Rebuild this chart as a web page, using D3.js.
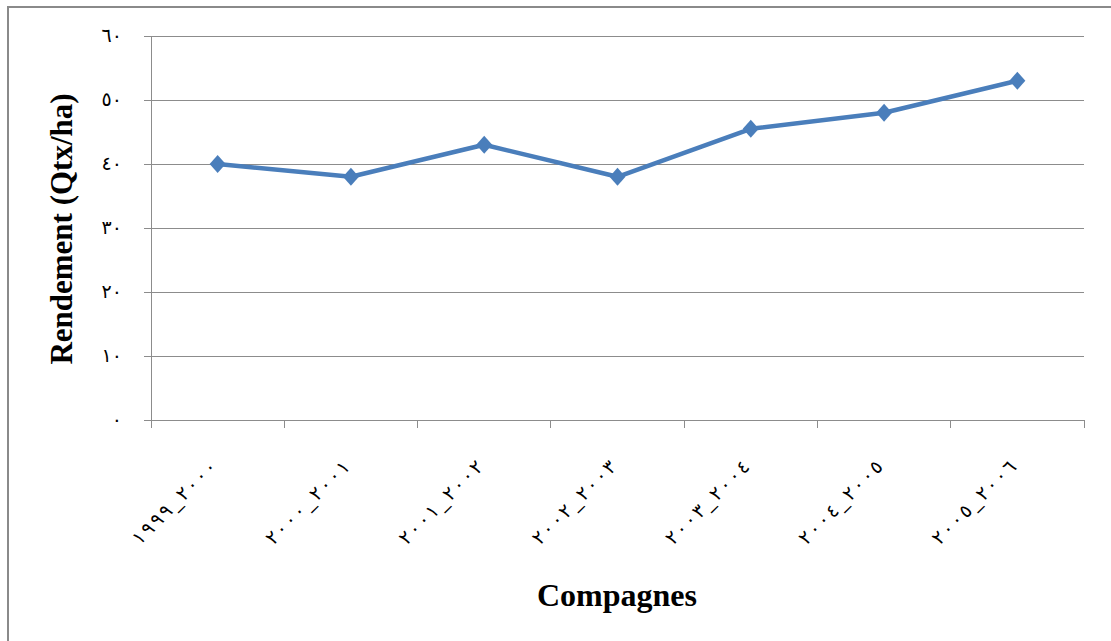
<!DOCTYPE html>
<html>
<head>
<meta charset="utf-8">
<script src="https://cdn.jsdelivr.net/npm/d3@7"></script>
<style>
  html, body { margin: 0; padding: 0; background: #ffffff; }
  svg { display: block; }
</style>
</head>
<body>
<svg id="chart" width="1111" height="641"></svg>
<script>
// Campaign labels (Arabic-Indic digits)
const campaigns = ["١٩٩٩_٢٠٠٠", "٢٠٠٠_٢٠٠١", "٢٠٠١_٢٠٠٢", "٢٠٠٢_٢٠٠٣", "٢٠٠٣_٢٠٠٤", "٢٠٠٤_٢٠٠٥", "٢٠٠٥_٢٠٠٦"];
// Yield per campaign, Qtx/ha
const yields = [40, 38, 43, 38, 45.5, 48, 53];
// Y axis ticks and their labels
const yTicks = [0, 10, 20, 30, 40, 50, 60];
const yTickLabels = ["٠", "١٠", "٢٠", "٣٠", "٤٠", "٥٠", "٦٠"];

const svg = d3.select("#chart");
const plot = { left: 151, right: 1084, top: 36, bottom: 420 };
const gridColor = "#8c8c8c";
const lineColor = "#4a7ebb";

// Outer frame
svg.append("rect")
  .attr("x", 8).attr("y", 7)
  .attr("width", 1120).attr("height", 660)
  .attr("fill", "none")
  .attr("stroke", "#8a8a8a")
  .attr("stroke-width", 2);

const x = d3.scaleBand()
  .domain(campaigns)
  .range([plot.left, plot.right])
  .paddingInner(0).paddingOuter(0);

const y = d3.scaleLinear()
  .domain([0, 60])
  .range([plot.bottom, plot.top]);

// Horizontal gridlines with outward tick marks
const yAxis = d3.axisLeft(y)
  .tickValues(yTicks)
  .tickSize(-(plot.right - plot.left))
  .tickFormat((d, i) => yTickLabels[i]);

const gy = svg.append("g")
  .attr("transform", `translate(${plot.left},0)`)
  .call(yAxis);
gy.select(".domain").remove();
gy.selectAll(".tick line")
  .attr("x1", -7)
  .attr("stroke", gridColor)
  .attr("stroke-width", 1)
  .attr("shape-rendering", "crispEdges");
gy.selectAll(".tick text")
  .attr("x", -29)
  .attr("dy", "0.3em")
  .attr("fill", "#000")
  .attr("letter-spacing", "2px")
  .style("font-family", "'DejaVu Sans', sans-serif")
  .style("font-size", "19px");

// Vertical axis line
svg.append("line")
  .attr("x1", plot.left).attr("x2", plot.left)
  .attr("y1", plot.top).attr("y2", plot.bottom + 7)
  .attr("stroke", gridColor)
  .attr("shape-rendering", "crispEdges");

// X axis: ticks at category boundaries
const boundaries = campaigns.map(c => x(c)).concat([x(campaigns[campaigns.length - 1]) + x.bandwidth()]);
const gx = svg.append("g");
gx.append("line")
  .attr("x1", plot.left).attr("x2", plot.right)
  .attr("y1", plot.bottom).attr("y2", plot.bottom)
  .attr("stroke", gridColor)
  .attr("shape-rendering", "crispEdges");
gx.selectAll("line.tick")
  .data(boundaries)
  .join("line")
  .attr("class", "tick")
  .attr("x1", d => d).attr("x2", d => d)
  .attr("y1", plot.bottom).attr("y2", plot.bottom + 8)
  .attr("stroke", gridColor)
  .attr("shape-rendering", "crispEdges");

gx.selectAll("text.cat")
  .data(campaigns)
  .join("text")
  .attr("class", "cat")
  .attr("transform", d => `translate(${x(d) + x.bandwidth() / 2},${plot.bottom + 48}) rotate(-45)`)
  .attr("text-anchor", "end")
  .attr("direction", "ltr")
  .attr("textLength", 110)
  .attr("lengthAdjust", "spacing")
  .style("unicode-bidi", "bidi-override")
  .style("font-family", "'DejaVu Sans', sans-serif")
  .style("font-size", "19px")
  .attr("fill", "#000")
  .text(d => d);

// Data line
const cx = d => x(d) + x.bandwidth() / 2;
const line = d3.line()
  .x((d, i) => cx(campaigns[i]))
  .y(d => y(d));

svg.append("path")
  .datum(yields)
  .attr("d", line)
  .attr("fill", "none")
  .attr("stroke", lineColor)
  .attr("stroke-width", 4.5)
  .attr("stroke-linejoin", "round");

// Diamond markers
const diamond = {
  draw(context, size) {
    const w = Math.sqrt(size) / 2;
    const h = w * 1.12;
    context.moveTo(0, -h);
    context.lineTo(w, 0);
    context.lineTo(0, h);
    context.lineTo(-w, 0);
    context.closePath();
  }
};
svg.selectAll("path.marker")
  .data(yields)
  .join("path")
  .attr("class", "marker")
  .attr("transform", (d, i) => `translate(${cx(campaigns[i])},${y(d)})`)
  .attr("d", d3.symbol().type(diamond).size(256))
  .attr("fill", lineColor);

// Axis titles
svg.append("text")
  .attr("transform", `translate(72,229) rotate(-90)`)
  .attr("text-anchor", "middle")
  .style("font-family", "'Liberation Serif', 'Times New Roman', serif")
  .style("font-weight", "bold")
  .style("font-size", "31px")
  .attr("fill", "#000")
  .text("Rendement (Qtx/ha)");

svg.append("text")
  .attr("x", 617).attr("y", 606)
  .attr("text-anchor", "middle")
  .style("font-family", "'Liberation Serif', 'Times New Roman', serif")
  .style("font-weight", "bold")
  .style("font-size", "32px")
  .attr("fill", "#000")
  .text("Compagnes");
</script>
</body>
</html>
